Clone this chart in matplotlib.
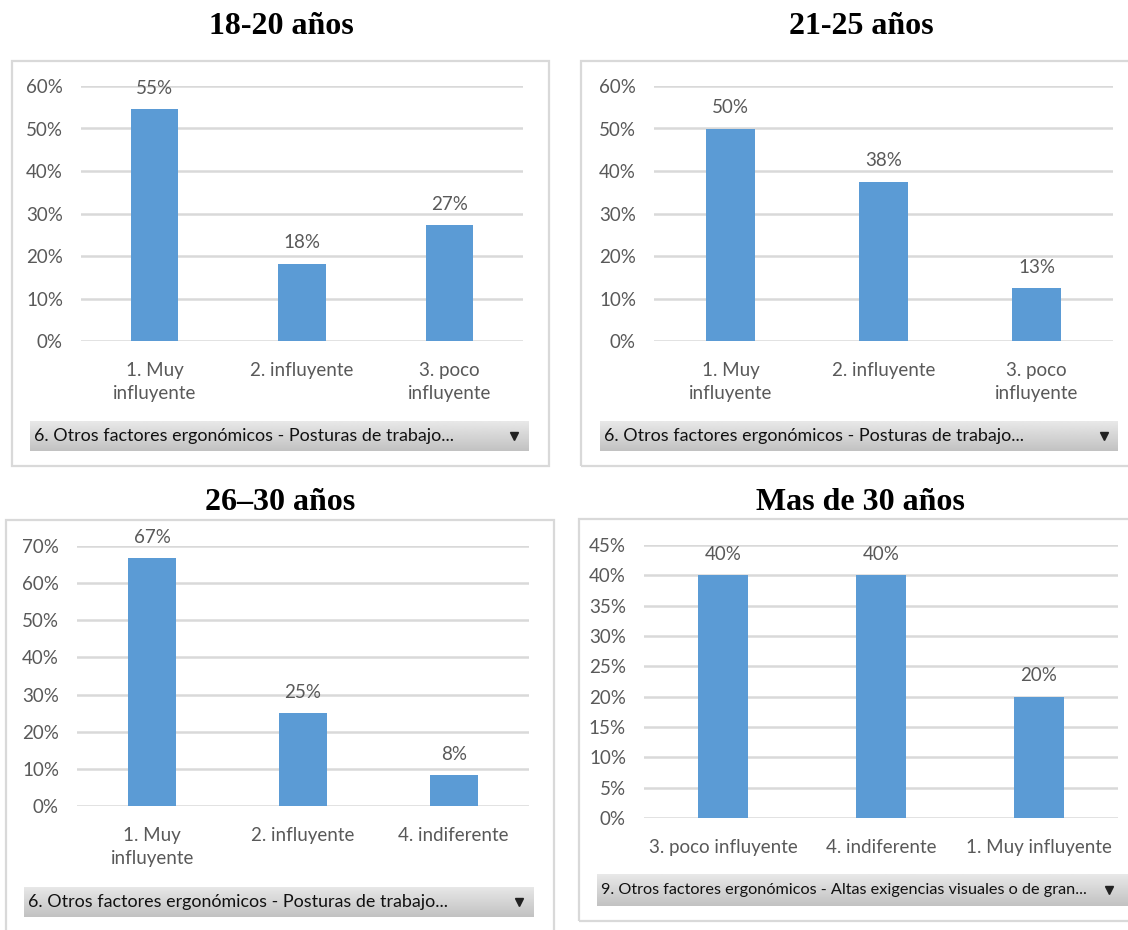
import numpy as np
import matplotlib
matplotlib.use("Agg")
import matplotlib.pyplot as plt
from matplotlib.patches import Rectangle
from matplotlib.ticker import PercentFormatter, MultipleLocator

plt.rcParams["font.family"] = ["Lato", "DejaVu Sans"]

# ── data ──────────────────────────────────────────────────────────────────────
titles = ["18-20 años", "21-25 años", "26–30 años", "Mas de 30 años"]

cats_1 = ["1. Muy\ninfluyente", "2. influyente", "3. poco\ninfluyente"]
vals_1 = [0.545, 0.182, 0.273]
labs_1 = ["55%", "18%", "27%"]

cats_2 = ["1. Muy\ninfluyente", "2. influyente", "3. poco\ninfluyente"]
vals_2 = [0.50, 0.375, 0.125]
labs_2 = ["50%", "38%", "13%"]

cats_3 = ["1. Muy\ninfluyente", "2. influyente", "4. indiferente"]
vals_3 = [0.667, 0.25, 0.083]
labs_3 = ["67%", "25%", "8%"]

cats_4 = ["3. poco influyente", "4. indiferente", "1. Muy influyente"]
vals_4 = [0.40, 0.40, 0.20]
labs_4 = ["40%", "40%", "20%"]

filters = [
    "6. Otros factores ergonómicos - Posturas de trabajo...",
    "6. Otros factores ergonómicos - Posturas de trabajo...",
    "6. Otros factores ergonómicos - Posturas de trabajo...",
    "9. Otros factores ergonómicos - Altas exigencias visuales o de gran...",
]

BAR   = "#5b9bd5"
GRID  = "#d9d9d9"
TXT   = "#595959"
FS    = 13.5

W, H = 1128, 930
fig = plt.figure(figsize=(W / 100, H / 100), dpi=100)


def px_axes(x0, y0, x1, y1):
    return fig.add_axes([x0 / W, 1 - y1 / H, (x1 - x0) / W, (y1 - y0) / H])


def box(x0, y0, x1, y1):
    fig.patches.append(Rectangle((x0 / W, 1 - y1 / H), (x1 - x0) / W, (y1 - y0) / H,
                                 transform=fig.transFigure, fill=False,
                                 edgecolor=GRID, lw=1.6, clip_on=False))


def dropdown(x0, y0, x1, y1, text, arrow_x, fs):
    ax = px_axes(x0, y0, x1, y1)
    grad = np.linspace(0.91, 0.76, 50).reshape(-1, 1)
    ax.imshow(grad, cmap="gray", vmin=0, vmax=1, aspect="auto",
              extent=[0, 1, 0, 1], origin="upper")
    ax.set_xlim(0, 1)
    ax.set_ylim(0, 1)
    ax.axis("off")
    ax.text(4 / (x1 - x0), 0.5, text, fontsize=fs, color="#111111",
            va="center", ha="left")
    ax.plot([(arrow_x - x0) / (x1 - x0)], [0.5], marker="v", color="#222222",
            markersize=5.5)


def chart(rect, cats, vals, labs, ymax, step, title, title_xy):
    ax = px_axes(*rect)
    x = np.arange(len(cats))
    ax.bar(x, vals, width=0.32, color=BAR, zorder=3)
    for xi, v, lb in zip(x, vals, labs):
        ax.annotate(lb, (xi, v), xytext=(0, 15), textcoords="offset points",
                    ha="center", va="center", fontsize=FS, color=TXT)
    ax.set_xlim(-0.5, len(cats) - 0.5)
    ax.set_ylim(0, ymax)
    ax.yaxis.set_major_locator(MultipleLocator(step))
    ax.yaxis.set_major_formatter(PercentFormatter(1.0, decimals=0))
    ax.grid(axis="y", color=GRID, lw=1.8, zorder=0)
    for s in ax.spines.values():
        s.set_visible(False)
    ax.set_xticks(x)
    ax.set_xticklabels(cats, linespacing=1.45)
    ax.tick_params(axis="x", length=0, pad=15, labelsize=FS, labelcolor=TXT)
    ax.tick_params(axis="y", length=0, pad=13, labelsize=FS, labelcolor=TXT)
    fig.text(title_xy[0] / W, 1 - title_xy[1] / H, title, ha="center", va="center",
             family="Liberation Serif", fontweight="bold", fontsize=23)
    return ax


# ── panels ────────────────────────────────────────────────────────────────────
box(12, 61, 549, 466)
chart((81, 86, 523, 341), cats_1, vals_1, labs_1, 0.6, 0.1, titles[0], (281, 27))
dropdown(30, 421, 529, 451, filters[0], 514, 12.9)

box(581, 61, 1140, 466)
chart((654, 86, 1113, 341), cats_2, vals_2, labs_2, 0.6, 0.1, titles[1], (861, 27))
dropdown(600, 421, 1118, 451, filters[1], 1104, 12.9)

box(6, 520, 554, 940)
chart((77, 546, 529, 806), cats_3, vals_3, labs_3, 0.7, 0.1, titles[2], (280, 502))
dropdown(24, 887, 534, 917, filters[2], 519, 12.9)

box(579, 519, 1140, 921)
chart((644, 545, 1118, 818), cats_4, vals_4, labs_4, 0.45, 0.05, titles[3], (860, 502))
dropdown(597, 874, 1128, 906, filters[3], 1109, 11.7)

fig.savefig("out.png", dpi=100)
